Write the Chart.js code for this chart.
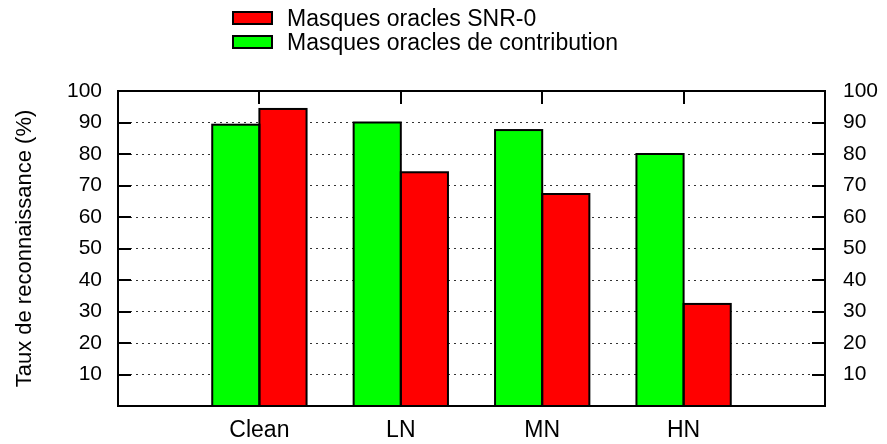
<!DOCTYPE html>
<html>
<head>
<meta charset="utf-8">
<script src="https://cdn.jsdelivr.net/npm/chart.js@4/dist/chart.umd.min.js"></script>
<style>
  html, body { margin: 0; padding: 0; background: #fff; }
  #wrap { position: relative; width: 887px; height: 444px; }
  #legend {
    position: absolute; left: 232px; top: 6px;
    font: 23px "Liberation Sans", Arial, Helvetica, sans-serif; color: #000;
  }
  #legend .item { display: flex; align-items: center; height: 24px; white-space: nowrap; }
  #legend .swatch { box-sizing: border-box; width: 41px; height: 14px; border: 2px solid #000; margin-right: 14px; }
</style>
</head>
<body>
<div id="wrap">
  <canvas id="chart" width="887" height="444"></canvas>
  <div id="legend"></div>
</div>
<script>
// Recognition rates (%) per noise condition
const categories = ['Clean', 'LN', 'MN', 'HN'];
const contributionScores = [89.3, 90.0, 87.6, 80.0];
const snr0Scores = [94.3, 74.2, 67.3, 32.4];
const yTickValues = [10, 20, 30, 40, 50, 60, 70, 80, 90, 100];
const contributionLabel = 'Masques oracles de contribution';
const snr0Label = 'Masques oracles SNR-0';
const yTitle = 'Taux de reconnaissance (%)';

const FONT = '"Liberation Sans", Arial, Helvetica, sans-serif';
Chart.defaults.font.family = FONT;
Chart.defaults.color = '#000';

const toPoints = values => values.map((v, i) => ({ x: i, y: v }));

// Black outline around every bar, centred on its edges so neighbours share one line
const barOutlinePlugin = {
  id: 'barOutline',
  afterDatasetsDraw(chart) {
    const { ctx } = chart;
    ctx.save();
    ctx.strokeStyle = '#000';
    ctx.lineWidth = 2;
    chart.data.datasets.forEach((ds, di) => {
      chart.getDatasetMeta(di).data.forEach(bar => {
        const { x, y, base, width } = bar.getProps(['x', 'y', 'base', 'width'], true);
        ctx.strokeRect(x - width / 2, y, width, base - y);
      });
    });
    ctx.restore();
  }
};

// Inward tick marks and the closed plot border
const framePlugin = {
  id: 'frame',
  afterDatasetsDraw(chart) {
    const { ctx, chartArea: a, scales } = chart;
    const len = 13;
    ctx.save();
    ctx.strokeStyle = '#000';
    ctx.lineWidth = 2;
    ctx.beginPath();
    scales.y.ticks.forEach(t => {
      const py = Math.round(scales.y.getPixelForValue(t.value));
      ctx.moveTo(a.left, py); ctx.lineTo(a.left + len, py);
      ctx.moveTo(a.right, py); ctx.lineTo(a.right - len, py);
    });
    categories.forEach((c, i) => {
      const px = Math.round(scales.x.getPixelForValue(i));
      ctx.moveTo(px, a.top); ctx.lineTo(px, a.top + len);
    });
    ctx.stroke();
    ctx.strokeRect(a.left, a.top, a.right - a.left, a.bottom - a.top);
    ctx.restore();
  }
};

const setYTicks = s => { s.ticks = yTickValues.map(v => ({ value: v })); };

const chart = new Chart(document.getElementById('chart'), {
  type: 'bar',
  data: {
    datasets: [
      {
        label: contributionLabel,
        data: toPoints(contributionScores),
        backgroundColor: '#00ff00',
        borderWidth: 0
      },
      {
        label: snr0Label,
        data: toPoints(snr0Scores),
        backgroundColor: '#ff0000',
        borderWidth: 0
      }
    ]
  },
  options: {
    responsive: false,
    animation: false,
    layout: { padding: { left: 0, right: 0, top: 91, bottom: 0 } },
    datasets: { bar: { categoryPercentage: 0.667, barPercentage: 1 } },
    plugins: { legend: { display: false }, tooltip: { enabled: false } },
    scales: {
      x: {
        type: 'linear',
        min: -1,
        max: 4,
        offset: false,
        position: 'bottom',
        afterBuildTicks: s => { s.ticks = categories.map((c, i) => ({ value: i })); },
        afterFit: s => { s.height = 38; },
        ticks: {
          callback: v => categories[v],
          font: { size: 23 },
          padding: 11,
          autoSkip: false,
          maxRotation: 0
        },
        grid: { display: false, drawTicks: false, offset: false },
        border: { display: false }
      },
      y: {
        position: 'left',
        min: 0,
        max: 100,
        afterBuildTicks: setYTicks,
        afterFit: s => { s.width = 118; },
        ticks: { font: { size: 21 }, padding: 16 },
        grid: {
          color: '#333',
          lineWidth: 1,
          drawTicks: false
        },
        border: { display: false, dash: [2, 4] },
        title: {
          display: true,
          text: yTitle,
          font: { size: 22 },
          padding: { top: 12, bottom: 0 }
        }
      },
      y2: {
        position: 'right',
        min: 0,
        max: 100,
        afterBuildTicks: setYTicks,
        afterFit: s => { s.width = 62; },
        ticks: { font: { size: 21 }, padding: 18 },
        grid: { display: false, drawTicks: false },
        border: { display: false }
      }
    }
  },
  plugins: [barOutlinePlugin, framePlugin]
});

// Legend: SNR-0 first, then contribution masks
const legend = document.getElementById('legend');
[chart.data.datasets[1], chart.data.datasets[0]].forEach(ds => {
  const item = document.createElement('div');
  item.className = 'item';
  const sw = document.createElement('span');
  sw.className = 'swatch';
  sw.style.background = ds.backgroundColor;
  const txt = document.createElement('span');
  txt.textContent = ds.label;
  item.appendChild(sw);
  item.appendChild(txt);
  legend.appendChild(item);
});
</script>
</body>
</html>
